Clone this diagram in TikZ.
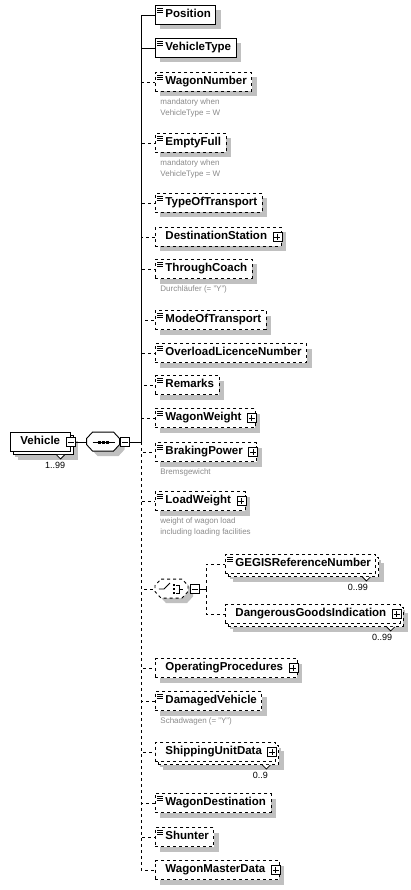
\documentclass[tikz,border=0pt]{standalone}
\usepackage{fontspec}
\setmainfont{Liberation Sans}
\usetikzlibrary{positioning, shadows}
\definecolor{shadowgray}{HTML}{C0C0C0}
\definecolor{notegray}{HTML}{8A8A8A}
\tikzset{
  elem/.style={rectangle,draw,fill=white,anchor=west,minimum height=19pt,inner sep=0pt,
    font=\fontsize{11.5}{13}\selectfont\bfseries,execute at begin node={\strut\hspace{10pt}},
    drop shadow={shadow xshift=5pt,shadow yshift=-5pt,fill=shadowgray,opacity=1}},
  opt/.style={elem,dashed},
  leaf/.style={execute at end node={\hspace{5pt}}},
  more/.style={execute at end node={\hspace{14pt}}},
  many/.style={drop shadow={shadow xshift=8pt,shadow yshift=-8pt,fill=shadowgray,opacity=1},
    copy shadow={shadow xshift=3pt,shadow yshift=-3pt,draw,fill=white,#1}},
  many/.default={},
  simple/.style={path picture={\foreach \k in {3,5,7}
    \draw[solid,line width=.8pt] ([shift={(2,\k)}]path picture bounding box.north west) -- ++(6,0);}},
  btn/.style={rectangle,draw,solid,fill=white,minimum size=9pt,inner sep=0pt},
  plusbtn/.style={btn,path picture={
    \draw ([xshift=1.5pt]path picture bounding box.west) -- ([xshift=-1.5pt]path picture bounding box.east);
    \draw ([yshift=-1.5pt]path picture bounding box.north) -- ([yshift=1.5pt]path picture bounding box.south);}},
  minusbtn/.style={btn,path picture={
    \draw ([xshift=1.5pt]path picture bounding box.west) -- ([xshift=-1.5pt]path picture bounding box.east);}},
  compositor/.style={rectangle,minimum width=33pt,minimum height=19pt,inner sep=0pt},
  note/.style={align=left,inner sep=0pt,text=notegray,font=\fontsize{8}{11.5}\selectfont},
  occurs/.style={inner sep=0pt,font=\fontsize{9}{10}\selectfont},
  link/.style={draw},
  optlink/.style={draw,dashed}
}

\begin{document}
\begin{tikzpicture}[x=1pt,y=-1pt,line width=.9pt]
\useasboundingbox (0,0) rectangle (411,890);
% root element and its sequence
\node[elem,many,execute at end node={\hspace{10pt}}] (veh) at (10,442) {Vehicle};
\node[minusbtn] (vehm) at (veh.east) {};
\node[compositor] (seq) at (103.5,442) {};
\node[compositor,anchor=west] (choice) at (155,589) {};
% octagons of the two compositors
\foreach \n/\s in {seq/solid,choice/dashed}{
  \fill[shadowgray,shift={([shift={(5,5)}]\n.north west)}]
    (6,0) -- (27,0) -- (33,6.5) -- (33,12.5) -- (27,19) -- (6,19) -- (0,12.5) -- (0,6.5) -- cycle;
  \draw[\s,fill=white,shift={(\n.north west)}]
    (6,0) -- (27,0) -- (33,6.5) -- (33,12.5) -- (27,19) -- (6,19) -- (0,12.5) -- (0,6.5) -- cycle;
}
\node[minusbtn,right=0pt of seq] (seqm) {};
\draw ([xshift=-11pt]seq.center) -- ([xshift=11pt]seq.center);
\foreach \dx in {-4,0,4} \fill ([shift={(\dx-1.5,-1.5)}]seq.center) rectangle ++(3,3);
\coordinate (fork) at (141,442);
% children
\node[elem,leaf,simple] (pos) at (155,15) {Position};
\node[elem,leaf,simple] (vtype) at (155,48) {VehicleType};
\node[opt,leaf,simple] (wnum) at (155,82) {WagonNumber};
\node[note,below right=6pt and 5pt of wnum.south west] (wnumnote) {mandatory when\\VehicleType = W};
\node[opt,leaf,simple] (empty) at (155,143) {EmptyFull};
\node[note,below right=6pt and 5pt of empty.south west] (emptynote) {mandatory when\\VehicleType = W};
\node[opt,leaf,simple] (ttype) at (155,203) {TypeOfTransport};
\node[opt,more] (dest) at (155,237) {DestinationStation};
\node[opt,leaf,simple] (through) at (155,269) {ThroughCoach};
\node[note,below right=6pt and 5pt of through.south west] (throughnote) {Durchläufer (= "Y")};
\node[opt,leaf,simple] (mode) at (155,320) {ModeOfTransport};
\node[opt,leaf,simple] (overload) at (155,353) {OverloadLicenceNumber};
\node[opt,leaf,simple] (remarks) at (155,385) {Remarks};
\node[opt,more,simple] (wweight) at (155,418) {WagonWeight};
\node[opt,more,simple] (brake) at (155,452) {BrakingPower};
\node[note,below right=6pt and 5pt of brake.south west] (brakenote) {Bremsgewicht};
\node[opt,more,simple] (load) at (155,501) {LoadWeight};
\node[note,below right=6pt and 5pt of load.south west] (loadnote) {weight of wagon load\\including loading facilities};
% choice
\node[minusbtn,right=1pt of choice] (choicem) {};
\draw ([xshift=-13pt]choice.center) -- ++(5,0) -- ++(6,-6);
\foreach \dy in {-4,0,4} \fill ([shift={(1,\dy-1.25)}]choice.center) rectangle ++(2.5,2.5);
\draw ([shift={(4,-4)}]choice.center) -- ++(3,0) -- ++(0,8) -- ++(-3,0)
  ([shift={(7,0)}]choice.center) -- ++(4,0);
\coordinate (cfork) at (206,589);
\node[opt,leaf,simple,many=dashed] (gegis) at (225,564) {GEGISReferenceNumber};
\node[opt,more,many=dashed] (dgi) at (225,614) {DangerousGoodsIndication};
\node[opt,more] (oper) at (155,668) {OperatingProcedures};
\node[opt,leaf,simple] (damaged) at (155,701) {DamagedVehicle};
\node[note,below right=6pt and 5pt of damaged.south west] (damagednote) {Schadwagen (= "Y")};
\node[opt,more,many=dashed] (ship) at (155,752) {ShippingUnitData};
\node[opt,leaf,simple] (wdest) at (155,803) {WagonDestination};
\node[opt,leaf,simple] (shunter) at (155,837) {Shunter};
\node[opt,more] (master) at (155,870) {WagonMasterData};
% buttons, notches and occurrences
\foreach \n in {dest,wweight,brake,load,dgi,oper,ship,master}
  \node[plusbtn] at ([xshift=-4pt]\n.east) {};
\foreach \n in {veh,gegis,dgi,ship}
  \draw[fill=white,line width=.8pt] ([shift={(-14,3)}]\n.south east) -- ++(4,4) -- ++(4,-4);
\node[occurs,below left=10pt and 5pt of veh.south east] (vehocc) {1..99};
\node[occurs,below left=10pt and 8pt of gegis.south east] (gegisocc) {0..99};
\node[occurs,below left=10pt and 8pt of dgi.south east] (dgiocc) {0..99};
\node[occurs,below left=10pt and 8pt of ship.south east] (shipocc) {0..9};
% connectors
\draw[link] (vehm) -- (seq.west);
\draw[link] (seqm) -- (fork);
\foreach \n in {wnum,empty,ttype,dest,through,mode,overload,remarks,wweight,brake,load,choice,oper,damaged,ship,wdest,shunter,master}
  \draw[optlink] (fork) |- (\n.west);
\foreach \n in {pos,vtype} \draw[link] (fork) |- (\n.west);
\draw[link] (choicem) -- (cfork);
\foreach \n in {gegis,dgi} \draw[optlink] (cfork) |- (\n.west);
\end{tikzpicture}
\end{document}
